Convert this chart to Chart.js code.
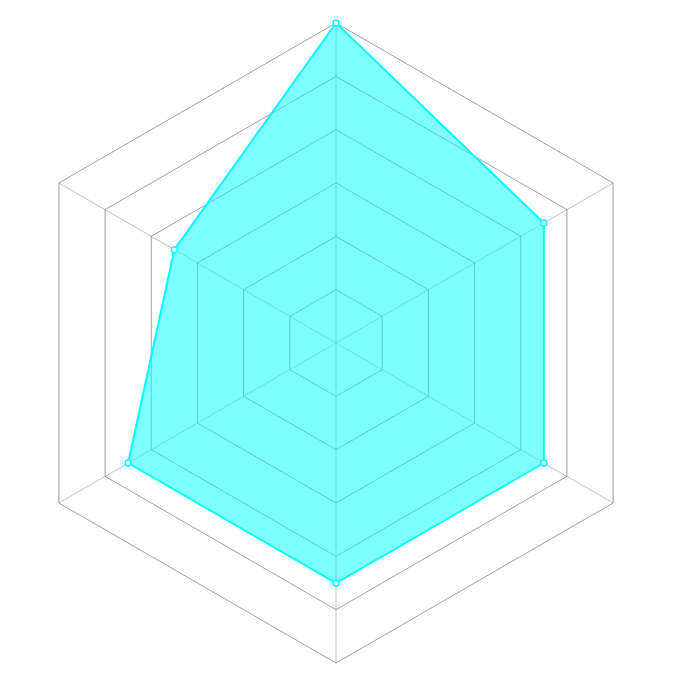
<!DOCTYPE html>
<html>
<head>
<meta charset="utf-8">
<script src="https://cdn.jsdelivr.net/npm/chart.js@4/dist/chart.umd.min.js"></script>
<style>
html,body{margin:0;padding:0;background:#fff;}
#wrap{width:688px;height:688px;position:relative;}
</style>
</head>
<body>
<div id="wrap"><canvas id="c"></canvas></div>
<script>
const categories = ["A", "B", "C", "D", "E", "F"];
const seriesValues = [60, 45, 45, 45, 45, 35];
const tickValues = [0, 10, 20, 30, 40, 50, 60];

new Chart(document.getElementById('c'), {
  type: 'radar',
  data: {
    labels: categories,
    datasets: [{
      label: 'Series',
      data: seriesValues,
      backgroundColor: 'rgba(0,255,255,0.5)',
      borderColor: '#00ffff',
      borderWidth: 2,
      pointBackgroundColor: '#ffffff',
      pointBorderColor: '#00ffff',
      pointBorderWidth: 1.5,
      pointRadius: 3
    }]
  },
  options: {
    responsive: true,
    maintainAspectRatio: false,
    animation: false,
    layout: { padding: { left: 16, right: 32, top: 23, bottom: 25 } },
    plugins: { legend: { display: false }, tooltip: { enabled: false } },
    scales: {
      r: {
        min: tickValues[0],
        max: tickValues[tickValues.length - 1],
        ticks: { stepSize: 10, display: false },
        pointLabels: { display: false },
        grid: { color: 'rgba(0,0,0,0.38)', lineWidth: 1 },
        angleLines: { color: 'rgba(0,0,0,0.25)', lineWidth: 1 }
      }
    }
  }
});
</script>
</body>
</html>
